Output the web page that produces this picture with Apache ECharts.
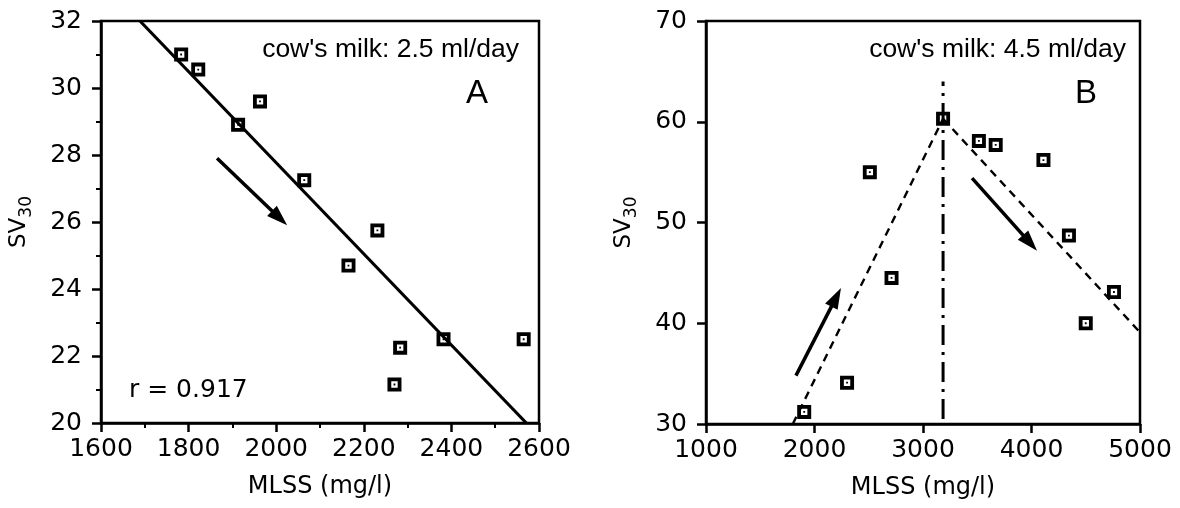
<!DOCTYPE html>
<html>
<head>
<meta charset="utf-8">
<script src="https://cdn.jsdelivr.net/npm/echarts@6/dist/echarts.min.js"></script>
<style>
  html, body { margin: 0; padding: 0; background: #fff; }
  #main { width: 1180px; height: 508px; }
</style>
</head>
<body>
<div id="main"></div>
<script>
// panel A: cow's milk 2.5 ml/day
var mlssA = [1783, 1822, 1913, 1963, 2064, 2165, 2231, 2270, 2283, 2382, 2565];
var svA = [31.0, 30.55, 28.9, 29.6, 27.25, 24.7, 25.75, 21.15, 22.25, 22.5, 22.5];
var fitA = [[1689, 32], [2571, 20]];
var arrowA = [[1865, 27.9, 2025, 25.9]];

// panel B: cow's milk 4.5 ml/day
var mlssB = [1905, 2300, 2510, 2710, 3185, 3515, 3670, 4110, 4345, 4500, 4760];
var svB = [31.2, 34.1, 55.0, 44.5, 60.3, 58.1, 57.7, 56.2, 48.7, 40.0, 43.1];
var riseB = [[1800, 30], [3185, 60.3]];
var fallB = [[3185, 60.3], [5000, 39.1]];
var peakB = [[3185, 30.5], [3185, 64]];
var arrowsB = [[1829, 34.8, 2244, 43.5], [3452, 54.4, 4051, 47.2]];

var tickFont = 'DejaVu Sans';

// open square with a dot in the middle
var boxSymbol = 'path://M0,0H14V14H0Z M3.8,3.8V10.2H10.2V3.8Z M6.1,6.1H7.9V7.9H6.1Z';

function pairs(xs, ys) {
  return xs.map(function (x, i) { return [x, ys[i]]; });
}

function drawArrow(params, api) {
  var p0 = api.coord([api.value(0), api.value(1)]);
  var p1 = api.coord([api.value(2), api.value(3)]);
  var dx = p1[0] - p0[0], dy = p1[1] - p0[1];
  var len = Math.sqrt(dx * dx + dy * dy);
  var ux = dx / len, uy = dy / len;
  var hl = 21, hw = 7;
  var bx = p1[0] - ux * hl, by = p1[1] - uy * hl;
  return {
    type: 'group',
    children: [{
      type: 'line',
      shape: { x1: p0[0], y1: p0[1], x2: bx + ux * 2, y2: by + uy * 2 },
      style: { stroke: '#000', lineWidth: 3.5 }
    }, {
      type: 'polygon',
      shape: { points: [[p1[0], p1[1]], [bx - uy * hw, by + ux * hw], [bx + uy * hw, by - ux * hw]] },
      style: { fill: '#000' }
    }]
  };
}

function plain(v) { return String(v); }

function axisX(idx, min, max, interval, minor) {
  return {
    type: 'value', gridIndex: idx, min: min, max: max, interval: interval,
    name: 'MLSS (mg/l)', nameLocation: 'middle', nameGap: 52,
    nameTextStyle: { color: '#000', fontSize: 24, fontFamily: tickFont },
    axisLine: { lineStyle: { color: '#000', width: 2.5 } },
    axisTick: { length: 9, lineStyle: { color: '#000', width: 2.5 } },
    minorTick: { show: minor, splitNumber: 2, length: 5, lineStyle: { color: '#000', width: 2 } },
    splitLine: { show: false },
    axisLabel: { color: '#000', fontSize: 25, fontFamily: tickFont, margin: 14, formatter: plain }
  };
}

function axisY(idx, min, max, interval, minor) {
  return {
    type: 'value', gridIndex: idx, min: min, max: max, interval: interval,
    name: '{a|SV}{b|30}', nameLocation: 'middle', nameGap: 70, nameRotate: 90,
    nameTextStyle: {
      color: '#000', fontFamily: tickFont,
      rich: {
        a: { fontSize: 23, fontFamily: tickFont, color: '#000', lineHeight: 26, verticalAlign: 'bottom' },
        b: { fontSize: 17, fontFamily: tickFont, color: '#000', lineHeight: 26, verticalAlign: 'bottom', padding: [0, 0, -4, 0] }
      }
    },
    axisLine: { lineStyle: { color: '#000', width: 2.5 } },
    axisTick: { length: 9, lineStyle: { color: '#000', width: 2.5 } },
    minorTick: { show: minor, splitNumber: 2, length: 5, lineStyle: { color: '#000', width: 2 } },
    splitLine: { show: false },
    axisLabel: { color: '#000', fontSize: 25, fontFamily: tickFont, margin: 19, formatter: plain }
  };
}

var myChart = echarts.init(document.getElementById('main'));

myChart.setOption({
  backgroundColor: '#fff',
  animation: false,
  grid: [
    { left: 101, top: 21, width: 438, height: 402, show: true, borderColor: '#000', borderWidth: 2.5 },
    { left: 706, top: 21, width: 434, height: 403, show: true, borderColor: '#000', borderWidth: 2.5 }
  ],
  xAxis: [axisX(0, 1600, 2600, 200, true), axisX(1, 1000, 5000, 1000, false)],
  yAxis: [axisY(0, 20, 32, 2, true), axisY(1, 30, 70, 10, false)],
  graphic: [
    { type: 'text', right: 1180 - 519, top: 36, style: { text: "cow's milk: 2.5 ml/day", font: '26.5px "Liberation Sans"', fill: '#000' } },
    { type: 'text', left: 466, top: 77, style: { text: 'A', font: '33px "Liberation Sans"', fill: '#000' } },
    { type: 'text', left: 129, top: 378, style: { text: 'r = 0.917', font: '25px "DejaVu Sans"', fill: '#000' } },
    { type: 'text', right: 1180 - 1126, top: 36, style: { text: "cow's milk: 4.5 ml/day", font: '26.5px "Liberation Sans"', fill: '#000' } },
    { type: 'text', left: 1075, top: 77, style: { text: 'B', font: '33px "Liberation Sans"', fill: '#000' } }
  ],
  series: [
    {
      type: 'line', xAxisIndex: 0, yAxisIndex: 0, data: fitA, showSymbol: false,
      lineStyle: { color: '#000', width: 3.2 }, z: 2
    }, {
      type: 'custom', xAxisIndex: 0, yAxisIndex: 0, data: arrowA,
      renderItem: drawArrow, encode: { x: [0, 2], y: [1, 3] }, z: 3
    }, {
      type: 'scatter', xAxisIndex: 0, yAxisIndex: 0, data: pairs(mlssA, svA),
      symbol: boxSymbol, symbolSize: 14, itemStyle: { color: '#000', opacity: 1 }, z: 5
    }, {
      type: 'line', xAxisIndex: 1, yAxisIndex: 1, data: riseB, showSymbol: false,
      lineStyle: { color: '#000', width: 2.4, type: [8, 6] }, z: 2
    }, {
      type: 'line', xAxisIndex: 1, yAxisIndex: 1, data: fallB, showSymbol: false,
      lineStyle: { color: '#000', width: 2.4, type: [8, 6] }, z: 2
    }, {
      type: 'line', xAxisIndex: 1, yAxisIndex: 1, data: peakB, showSymbol: false,
      lineStyle: { color: '#000', width: 3, type: [20, 7, 3, 7] }, z: 2
    }, {
      type: 'custom', xAxisIndex: 1, yAxisIndex: 1, data: arrowsB,
      renderItem: drawArrow, encode: { x: [0, 2], y: [1, 3] }, z: 3
    }, {
      type: 'scatter', xAxisIndex: 1, yAxisIndex: 1, data: pairs(mlssB, svB),
      symbol: boxSymbol, symbolSize: 14, itemStyle: { color: '#000', opacity: 1 }, z: 5
    }
  ]
});
</script>
</body>
</html>
